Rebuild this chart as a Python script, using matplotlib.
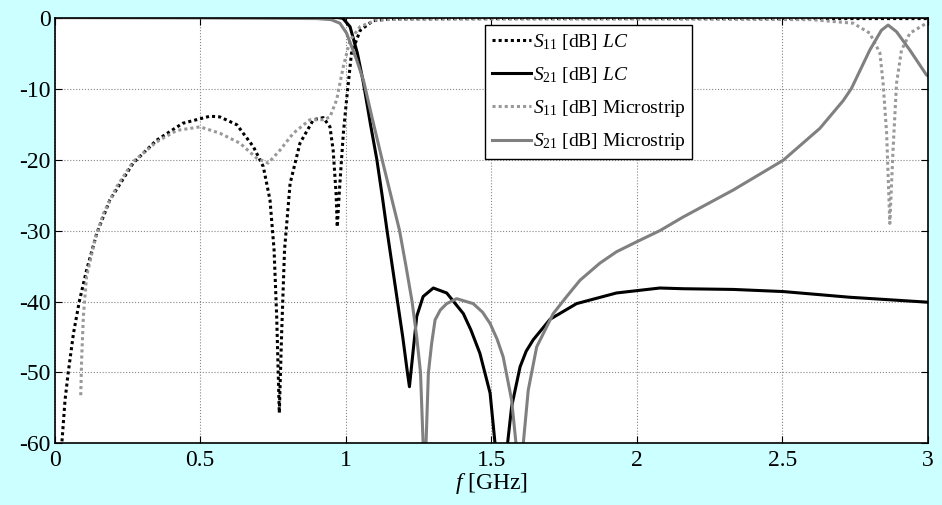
import matplotlib
matplotlib.use("Agg")
import matplotlib.pyplot as plt

plt.rcParams["font.family"] = "Liberation Serif"
plt.rcParams["mathtext.fontset"] = "custom"
plt.rcParams["mathtext.rm"] = "Liberation Serif"
plt.rcParams["mathtext.it"] = "Liberation Serif:italic"
plt.rcParams["axes.unicode_minus"] = False

# S11 LC (black dotted)
f_s11_lc = [0.02, 0.025, 0.036, 0.047, 0.065, 0.085, 0.11, 0.145, 0.19, 0.27, 0.35, 0.44, 0.534,
            0.568, 0.626, 0.683, 0.717, 0.74, 0.754, 0.763, 0.772, 0.78, 0.79, 0.809, 0.843,
            0.889, 0.923, 0.946, 0.957, 0.967, 0.971, 0.98, 0.992, 1.003, 1.02, 1.05, 1.094,
            1.15, 1.5, 2.0, 2.5, 3.0]
s11_lc = [-64, -60, -53.9, -50, -44.5, -40, -35.6, -30.4, -25.7, -20.5, -17.3, -14.9, -13.9,
          -14.0, -15.1, -18.2, -21.0, -25.7, -32.7, -42.1, -55.7, -44.5, -32.7, -23.4, -17.7,
          -14.4, -14.1, -15.4, -18.7, -24.8, -29.5, -23.4, -16.3, -11.6, -5.0, -1.8, -0.45,
          -0.2, -0.15, -0.15, -0.15, -0.15]

# S21 LC (black solid)
f_s21_lc = [0.0, 0.5, 0.97, 0.99, 1.015, 1.04, 1.06, 1.085, 1.107, 1.125, 1.142, 1.16, 1.178,
            1.196, 1.212, 1.219, 1.244, 1.266, 1.301, 1.347, 1.404, 1.43, 1.461, 1.496, 1.513,
            1.52, 1.55, 1.556, 1.57, 1.599, 1.62, 1.644, 1.702, 1.793, 1.93, 2.079, 2.159,
            2.331, 2.503, 2.731, 3.0]
s21_lc = [0.0, 0.0, 0.0, -0.1, -1.3, -5.0, -9.0, -15.0, -20.0, -25.0, -30.0, -35.0, -40.0,
          -45.0, -50.0, -52.0, -42.1, -39.3, -38.1, -38.8, -41.7, -44.0, -47.3, -52.9, -60,
          -63, -63, -60, -54.8, -49.2, -47.0, -45.4, -42.5, -40.3, -38.8, -38.1, -38.2,
          -38.3, -38.6, -39.4, -40.1]

# S11 Microstrip (grey dotted)
f_s11_ms = [0.09, 0.093, 0.099, 0.11, 0.139, 0.168, 0.214, 0.27, 0.351, 0.42, 0.5, 0.568,
            0.637, 0.694, 0.734, 0.774, 0.82, 0.877, 0.923, 0.946, 0.969, 0.98, 0.992,
            1.015, 1.049, 1.106, 1.2, 2.0, 2.6, 2.743, 2.8, 2.835, 2.846, 2.858, 2.869,
            2.88, 2.892, 2.909, 2.938, 2.995, 3.0]
s11_ms = [-53.2, -48.2, -42.1, -36.5, -31.3, -27.6, -23.8, -20.3, -17.5, -15.9, -15.4, -16.3,
          -17.7, -19.8, -20.5, -18.7, -16.3, -14.4, -14.4, -14.0, -11.6, -9.3, -6.9,
          -3.2, -1.3, -0.35, -0.2, -0.2, -0.3, -0.8, -2.2, -5.0, -9.3, -16.3, -29.0,
          -18.7, -9.3, -4.6, -2.2, -0.8, -0.7]

# S21 Microstrip (grey solid)
f_s21_ms = [0.0, 0.5, 0.9, 0.95, 0.98, 1.003, 1.038, 1.062, 1.09, 1.125, 1.155, 1.185, 1.207,
            1.228, 1.244, 1.257, 1.266, 1.27, 1.273, 1.276, 1.284, 1.295, 1.307, 1.325, 1.347,
            1.381, 1.438, 1.47, 1.496, 1.52, 1.541, 1.57, 1.585, 1.59, 1.605, 1.61, 1.627,
            1.656, 1.713, 1.759, 1.805, 1.873, 1.93, 1.999, 2.08, 2.159, 2.331, 2.503, 2.629,
            2.709, 2.737, 2.8, 2.84, 2.863, 2.892, 2.938, 2.995, 3.0]
s21_ms = [0.0, -0.05, -0.15, -0.3, -0.8, -2.2, -6.0, -9.0, -14.0, -20.0, -25.0, -30.0, -35.0,
          -40.0, -45.0, -50.0, -60, -64, -64, -60, -50.1, -46.0, -42.6, -41.2, -40.3,
          -39.6, -40.3, -41.5, -43.1, -45.3, -47.8, -53.9, -60, -64, -64, -60, -52.5,
          -46.4, -41.7, -39.3, -37.0, -34.6, -33.0, -31.6, -30.0, -28.1, -24.3, -20.1, -15.6,
          -11.7, -10.0, -4.6, -1.8, -1.06, -2.0, -4.6, -8.1, -8.2]

xticks = [0, 0.5, 1, 1.5, 2, 2.5, 3]
yticks = [-60, -50, -40, -30, -20, -10, 0]

fig = plt.figure(figsize=(9.42, 5.05), dpi=100, facecolor="#CCFFFF")
ax = fig.add_axes([0.0579, 0.1218, 0.9272, 0.8435])
ax.set_facecolor("white")

ax.plot(f_s11_lc, s11_lc, color="black", lw=2.2, ls=(0, (1, 1)), label="$S_{11}$ [dB] $LC$")
ax.plot(f_s21_lc, s21_lc, color="black", lw=2.2, label="$S_{21}$ [dB] $LC$")
ax.plot(f_s11_ms, s11_ms, color="#999999", lw=2.2, ls=(0, (1, 1)), label="$S_{11}$ [dB] Microstrip")
ax.plot(f_s21_ms, s21_ms, color="#808080", lw=2.2, label="$S_{21}$ [dB] Microstrip")

ax.set_xlim(0, 3)
ax.set_ylim(-60, 0)
ax.set_xticks(xticks)
ax.set_xticklabels(["0", "0.5", "1", "1.5", "2", "2.5", "3"])
ax.set_yticks(yticks)
ax.set_yticklabels([str(v) for v in yticks])
ax.tick_params(direction="in", top=True, right=True, labelsize=17, length=5, width=0.8)
ax.tick_params(axis="x", pad=5)
ax.tick_params(axis="y", pad=3)
ax.grid(True, color="#888888", ls=":", lw=0.8)
for s in ax.spines.values():
    s.set_linewidth(1.2)
ax.set_xlabel("$f$ [GHz]", fontsize=17, labelpad=0)

leg = ax.legend(loc="upper left", bbox_to_anchor=(0.493, 0.982), borderaxespad=0,
                fontsize=14, handlelength=2.0, handletextpad=0.1, labelspacing=0.66,
                borderpad=0.35, fancybox=False, framealpha=1, edgecolor="black")
leg.get_frame().set_linewidth(1.0)

fig.savefig("out.png", dpi=100, facecolor=fig.get_facecolor())
